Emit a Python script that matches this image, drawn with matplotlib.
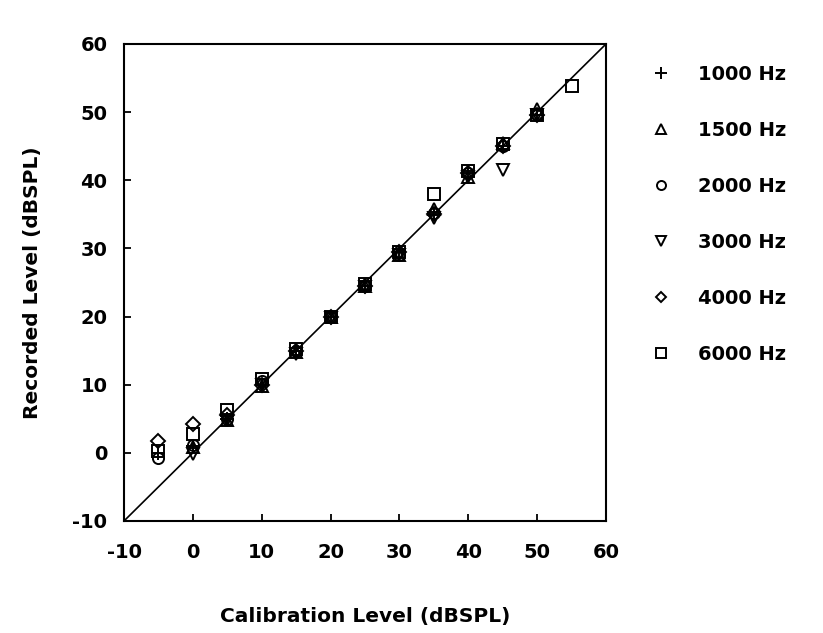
import numpy as np
from matplotlib import pyplot as plt
from matplotlib.lines import Line2D

plt.rcParams['font.family'] = ['DejaVu Sans']
plt.rcParams['axes.unicode_minus'] = False

# calibration levels (dBSPL)
cal = [-5, 0, 5, 10, 15, 20, 25, 30, 35, 40, 45, 50, 55]

# recorded levels per test frequency (nan = not measured)
nan = np.nan
rec_1000 = [0.0, 1.0, 5.0, 10.0, 15.0, 20.0, 24.5, 29.5, 35.0, 41.0, 45.0, 49.5, nan]
rec_1500 = [nan, 0.8, 4.8, 9.8, 14.8, 20.0, 24.5, 29.0, 35.8, 40.5, 45.5, 50.5, nan]
rec_2000 = [-0.8, 1.2, 5.0, 10.5, 15.0, 20.0, 24.5, 29.0, 35.2, 41.0, 45.0, 49.5, nan]
rec_3000 = [nan, -0.2, 4.8, 10.0, 14.5, 19.8, 24.3, 29.0, 34.5, 40.5, 41.5, 49.5, nan]
rec_4000 = [1.8, 4.2, 5.5, 10.0, 15.0, 20.0, 24.5, 29.5, 35.0, 41.0, 45.0, 49.5, nan]
rec_6000 = [0.3, 2.7, 6.3, 10.8, 15.3, 20.0, 24.7, 29.5, 38.0, 41.3, 45.3, 49.5, 53.8]

series = [rec_1000, rec_1500, rec_2000, rec_3000, rec_4000, rec_6000]
labels = ['1000 Hz', '1500 Hz', '2000 Hz', '3000 Hz', '4000 Hz', '6000 Hz']
markers = ['+', '^', 'o', 'v', 'D', 's']
msizes = [10, 8, 8, 8, 7, 9]

fig = plt.figure(figsize=(8.23, 6.33), dpi=100)
ax = fig.add_axes([0.1507, 0.177, 0.5857, 0.7536])

# unity line
ax.plot([-10, 60], [-10, 60], color='black', lw=1.2, zorder=1)

handles = []
for y, lab, m, ms in zip(series, labels, markers, msizes):
    ax.plot(cal, y, linestyle='none', marker=m, markersize=ms,
            markerfacecolor='none', markeredgecolor='black',
            markeredgewidth=1.4, color='black', zorder=3)
    handles.append(Line2D([], [], linestyle='none', marker=m, markersize=ms - 1.5,
                          markerfacecolor='none', markeredgecolor='black',
                          markeredgewidth=1.4, color='black', label=lab))

ax.set_xlim(-10, 60)
ax.set_ylim(-10, 60)
ax.set_xticks(np.arange(-10, 61, 10))
ax.set_yticks(np.arange(-10, 61, 10))
ax.tick_params(direction='in', length=5, width=1.3, labelsize=14,
               top=False, right=False)
ax.tick_params(axis='x', pad=16)
ax.tick_params(axis='y', pad=12)
for t in ax.get_xticklabels() + ax.get_yticklabels():
    t.set_fontweight('bold')
for s in ax.spines.values():
    s.set_linewidth(1.5)

ax.set_xlabel('Calibration Level (dBSPL)', fontsize=14.5, fontweight='bold', labelpad=32)
ax.set_ylabel('Recorded Level (dBSPL)', fontsize=14.5, fontweight='bold', labelpad=22)

fig.legend(handles=handles, loc='upper left', bbox_to_anchor=(0.768, 0.925),
           frameon=False, prop={'size': 14, 'weight': 'bold'},
           labelspacing=1.9, handletextpad=1.3, handlelength=1.2)

plt.savefig('out.png', dpi=100)
